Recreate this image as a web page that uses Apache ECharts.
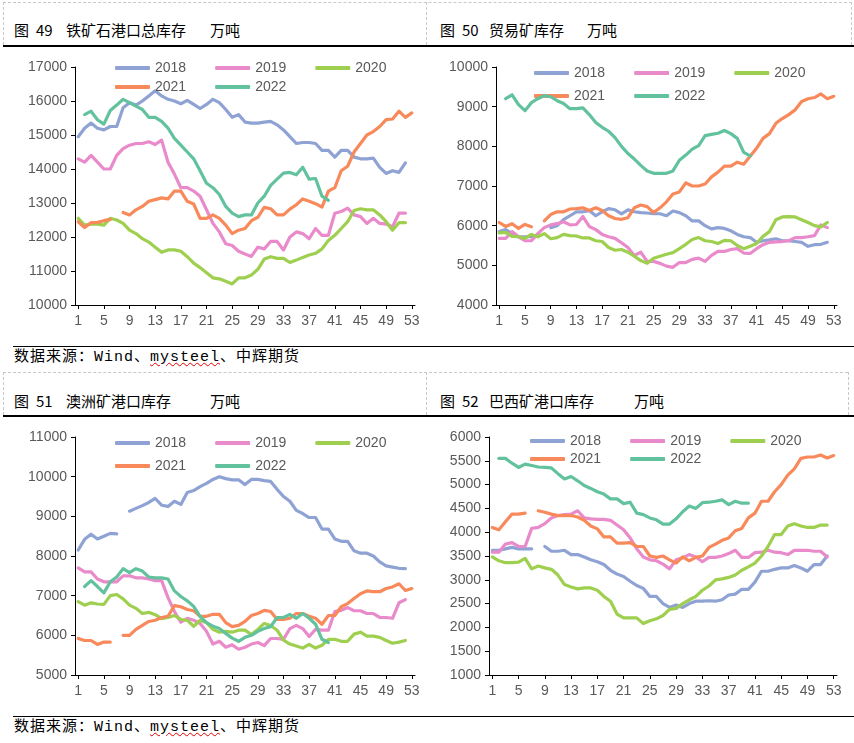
<!DOCTYPE html>
<html><head><meta charset="utf-8">
<script src="https://cdn.jsdelivr.net/npm/echarts@6/dist/echarts.min.js"></script>
<style>
html,body{margin:0;padding:0;background:#fff;width:854px;height:743px;overflow:hidden;position:relative;font-family:"Noto Sans CJK SC",sans-serif;}
.hl{position:absolute;height:0;}
.vl{position:absolute;width:0;}
.t{position:absolute;font-size:15px;line-height:20px;color:#000;white-space:pre;}
.src{position:absolute;left:14px;font-size:15px;line-height:20px;color:#000;white-space:pre;letter-spacing:1px;font-family:"Liberation Mono","Noto Sans CJK SC",monospace;}
.wavy{text-decoration:underline wavy #e00000;text-decoration-thickness:1px;}
#chart{position:absolute;left:0;top:0;width:854px;height:743px;}
</style></head>
<body>
<!-- row 1 frame -->
<div class="hl" style="left:3px;top:2px;width:849px;border-top:1px dashed #c8c8c8"></div>
<div class="vl" style="left:3px;top:2px;height:43px;border-left:1px dashed #c8c8c8"></div>
<div class="vl" style="left:426px;top:2px;height:43px;border-left:1px dashed #c8c8c8"></div>
<div class="vl" style="left:851px;top:2px;height:43px;border-left:1px dashed #c8c8c8"></div>
<div class="hl" style="left:3px;top:45px;width:851px;border-top:2px solid #000"></div>
<div class="t" style="left:14px;top:20px">图</div><div class="t" style="left:36px;top:20px">49</div><div class="t" style="left:66px;top:20px">铁矿石港口总库存</div><div class="t" style="left:210px;top:20px">万吨</div>
<div class="t" style="left:440px;top:20px">图</div><div class="t" style="left:462px;top:20px">50</div><div class="t" style="left:489px;top:20px">贸易矿库存</div><div class="t" style="left:587px;top:20px">万吨</div>
<div class="hl" style="left:13px;top:346px;width:841px;border-top:1.5px solid #000"></div>
<div class="src" style="top:348px">数据来源：Wind、<span class="wavy">mysteel</span>、中辉期货</div>
<!-- row 2 frame -->
<div class="hl" style="left:3px;top:372px;width:845px;border-top:1px dashed #c8c8c8"></div>
<div class="vl" style="left:3px;top:372px;height:43px;border-left:1px dashed #c8c8c8"></div>
<div class="vl" style="left:426px;top:372px;height:43px;border-left:1px dashed #c8c8c8"></div>
<div class="vl" style="left:848px;top:372px;height:43px;border-left:1px dashed #c8c8c8"></div>
<div class="hl" style="left:3px;top:415px;width:851px;border-top:2px solid #000"></div>
<div class="t" style="left:14px;top:391px">图</div><div class="t" style="left:36px;top:391px">51</div><div class="t" style="left:66px;top:391px">澳洲矿港口库存</div><div class="t" style="left:210px;top:391px">万吨</div>
<div class="t" style="left:440px;top:391px">图</div><div class="t" style="left:462px;top:391px">52</div><div class="t" style="left:489px;top:391px">巴西矿港口库存</div><div class="t" style="left:634px;top:391px">万吨</div>
<div class="hl" style="left:13px;top:716px;width:841px;border-top:1.5px solid #000"></div>
<div class="src" style="top:718px">数据来源：Wind、<span class="wavy">mysteel</span>、中辉期货</div>

<div id="chart"></div>
<script>
const weeks = ['1','2','3','4','5','6','7','8','9','10','11','12','13','14','15','16','17','18','19','20','21','22','23','24','25','26','27','28','29','30','31','32','33','34','35','36','37','38','39','40','41','42','43','44','45','46','47','48','49','50','51','52','53'];
const years = ['2018','2019','2020','2021','2022'];
const yearColors = ['#8FA2D4','#E98BCB','#9FCF4E','#F8895A','#62C29E'];

// 图49 铁矿石港口总库存 (万吨)
const total2018 = [14950,15200,15350,15200,15150,15250,15250,15800,15950,15880,16000,16150,16300,16150,16050,16000,15920,16020,15900,15780,15900,16050,15950,15750,15520,15600,15380,15350,15350,15380,15400,15300,15150,14950,14750,14780,14780,14750,14550,14550,14350,14550,14550,14350,14300,14300,14320,14050,13870,13950,13900,14180,null];
const total2019 = [14300,14200,14400,14200,14000,14000,14400,14600,14700,14750,14750,14800,14720,14850,14200,13850,13450,13450,13350,13200,12800,12400,12150,11800,11750,11580,11500,11430,11700,11650,11870,11870,11620,12000,12150,12100,11950,12250,12050,12050,12700,12750,12850,12650,12600,12400,12550,12400,12380,12300,12700,12700,null];
const total2020 = [12550,12350,12380,12380,12350,12550,12500,12400,12200,12100,11950,11850,11700,11550,11620,11620,11580,11420,11230,11100,10950,10800,10770,10700,10620,10800,10800,10880,11050,11350,11420,11370,11370,11250,11320,11400,11470,11520,11650,11900,12050,12250,12450,12780,12830,12800,12800,12650,12450,12200,12420,12420,null];
const total2021 = [12450,12280,12420,12430,12480,12520,null,12720,12650,12800,12900,13050,13100,13150,13120,13350,13350,13050,12970,12550,12550,12650,12550,12350,12100,12200,12250,12480,12580,12870,12830,12650,12650,12820,12950,13120,13050,12980,12880,13350,13450,13950,14080,14500,14750,15000,15100,15250,15450,15470,15700,15520,15650];
const total2022 = [null,15600,15700,15450,15320,15720,15880,16050,15950,15850,15750,15520,15520,15400,15200,14900,14700,14500,14300,13950,13580,13450,13250,12900,12700,12600,12650,12650,13000,13200,13520,13700,13880,13900,13830,14050,13700,13720,13200,13080,null,null,null,null,null,null,null,null,null,null,null,null,null];

// 图50 贸易矿库存 (万吨)
const trade2018 = [5850,5900,5800,5720,5720,5720,5750,null,5950,6000,6150,6250,6350,6350,6380,6250,6350,6430,6400,6300,6400,6350,6330,6320,6300,6300,6250,6370,6330,6250,6120,6120,6000,5920,5950,5930,5870,5780,5720,5700,5580,5620,5640,5670,5620,5620,5600,5580,5480,5520,5530,5580,null];
const trade2019 = [5680,5680,5850,5720,5620,5620,5800,5950,6020,6050,6100,6020,6030,6230,5980,5900,5780,5720,5680,5570,5450,5250,5330,5100,5100,5050,4980,4950,5070,5070,5150,5180,5100,5250,5350,5350,5400,5420,5310,5300,5420,5520,5580,5590,5600,5620,5700,5700,5720,5750,6020,5950,null];
const trade2020 = [5820,5830,5730,5720,5680,5780,5720,5800,5670,5700,5780,5750,5740,5690,5690,5620,5600,5450,5380,5400,5330,5230,5120,5050,5180,5230,5280,5320,5420,5530,5650,5700,5620,5600,5550,5630,5620,5500,5420,5480,5550,5730,5850,6150,6220,6230,6220,6150,6080,6000,5970,6080,null];
const trade2021 = [6080,5980,6050,5930,6030,5970,null,6120,6280,6350,6350,6420,6430,6450,6380,6450,6380,6250,6180,6160,6200,6450,6520,6480,6330,6450,6600,6800,6850,7080,7000,7000,7050,7230,7350,7500,7500,7600,7550,7750,7950,8200,8320,8580,8700,8800,8920,9130,9200,9230,9320,9200,9260];
const trade2022 = [null,9200,9300,9050,8900,9100,9200,9280,9250,9150,9080,8950,8950,8970,8800,8600,8480,8380,8220,8000,7820,7680,7520,7380,7320,7320,7320,7380,7650,7780,7930,8020,8270,8300,8330,8400,8320,8200,7850,7760,null,null,null,null,null,null,null,null,null,null,null,null,null];

// 图51 澳洲矿港口库存 (万吨)
const aus2018 = [8150,8420,8550,8430,8500,8570,8560,null,9130,9200,9270,9350,9450,9280,9250,9380,9300,9600,9650,9750,9830,9930,10000,9950,9920,9920,9800,9930,9930,9900,9880,9680,9500,9380,9150,9070,8970,8970,8680,8680,8430,8370,8370,8130,8070,8070,8000,7850,7750,7720,7690,7680,null];
const aus2019 = [7700,7600,7600,7420,7350,7350,7350,7500,7500,7450,7450,7420,7380,7380,6950,6600,6330,6430,6380,6300,6100,5780,5850,5700,5760,5650,5700,5780,5820,5740,5920,5920,5900,6170,6250,6170,5970,6150,6130,6130,6600,6630,6700,6620,6620,6550,6550,6450,6450,6430,6820,6900,null];
const aus2020 = [6850,6760,6820,6790,6780,7000,7030,6920,6760,6680,6550,6580,6520,6420,6450,6500,6400,6380,6230,6380,6320,6150,6080,6100,6080,6130,6130,6020,6150,6300,6250,6130,5880,5780,5730,5680,5770,5680,5750,5900,5900,5850,5850,6030,6080,5980,5980,5950,5870,5800,5830,5870,null];
const aus2021 = [5920,5870,5870,5770,5830,5830,null,6000,6000,6150,6250,6350,6380,6450,6480,6750,6720,6650,6620,6480,6480,6530,6530,6320,6220,6250,6350,6500,6550,6630,6600,6400,6400,6430,6550,6550,6480,6430,6280,6500,6500,6720,6800,6930,7050,7120,7100,7100,7180,7220,7300,7130,7180];
const aus2022 = [null,7230,7380,7230,7070,7350,7470,7680,7580,7680,7620,7470,7450,7450,7420,7120,6980,6870,6730,6480,6320,6230,6170,6050,5930,5850,5950,6000,6100,6170,6220,6450,6450,6530,6430,6550,6430,6280,5900,5820,null,null,null,null,null,null,null,null,null,null,null,null,null];

// 图52 巴西矿港口库存 (万吨)
const bra2018 = [3620,3620,3650,3680,3650,3650,3650,null,3700,3600,3600,3620,3530,3530,3480,3420,3380,3320,3200,3120,3070,2970,2880,2820,2650,2650,2500,2420,2470,2420,2500,2550,2550,2560,2550,2580,2680,2700,2800,2800,2950,3180,3180,3220,3250,3250,3300,3250,3180,3320,3320,3500,null];
const bra2019 = [3580,3580,3750,3780,3700,3700,4080,4100,4180,4300,4350,4370,4380,4450,4300,4280,4270,4270,4250,4150,4050,3880,3650,3480,3420,3400,3330,3230,3420,3460,3530,3480,3380,3470,3470,3500,3550,3620,3470,3470,3570,3580,3620,3580,3570,3530,3620,3620,3620,3600,3600,3480,null];
const bra2020 = [3480,3400,3360,3360,3370,3450,3230,3290,3250,3220,3100,2900,2850,2810,2830,2830,2780,2650,2550,2280,2200,2200,2200,2080,2140,2180,2250,2380,2400,2500,2580,2650,2780,2870,3000,3020,3050,3100,3200,3270,3350,3500,3700,3950,3950,4130,4180,4130,4100,4100,4150,4150,null];
const bra2021 = [4100,4050,4220,4380,4380,4400,null,4450,4420,4380,4350,4350,4350,4320,4250,4130,4070,3900,3900,3770,3770,3780,3700,3700,3500,3470,3500,3420,3350,3480,3400,3470,3500,3680,3750,3830,3880,4030,4080,4300,4400,4650,4650,4850,5000,5200,5330,5550,5580,5580,5620,5560,5610];
const bra2022 = [null,5550,5550,5450,5360,5430,5400,5370,5360,5350,5230,5120,5170,5080,4980,4920,4850,4800,4700,4700,4600,4630,4400,4370,4300,4260,4170,4170,4280,4430,4550,4500,4620,4630,4650,4680,4580,4650,4610,4610,null,null,null,null,null,null,null,null,null,null,null,null,null];

const panels = [
  {grid:{left:75, top:67, width:340, height:238}, y:[10000,17000,1000], data:[total2018,total2019,total2020,total2021,total2022], leg:[115,61,80]},
  {grid:{left:496,top:67, width:341, height:238}, y:[4000,10000,1000],  data:[trade2018,trade2019,trade2020,trade2021,trade2022], leg:[534,66,89]},
  {grid:{left:75, top:437,width:340, height:238}, y:[5000,11000,1000],  data:[aus2018,aus2019,aus2020,aus2021,aus2022], leg:[115,436,459]},
  {grid:{left:489,top:437,width:348, height:238}, y:[1000,6000,500],    data:[bra2018,bra2019,bra2020,bra2021,bra2022], leg:[530,434,452]}
];

const txt = {color:'#595959', fontSize:14, fontFamily:'"Liberation Sans", Arial, sans-serif'};
const option = {animation:false, backgroundColor:'transparent', grid:[], xAxis:[], yAxis:[], series:[], legend:[]};
panels.forEach((p,i)=>{
  option.grid.push(Object.assign({containLabel:false}, p.grid));
  option.xAxis.push({type:'category', gridIndex:i, data:weeks, boundaryGap:true,
    axisLine:{lineStyle:{color:'#000', width:1}},
    axisTick:{show:true, alignWithLabel:true, interval:3, length:4, lineStyle:{color:'#000'}},
    axisLabel:Object.assign({interval:3, margin:9}, txt), splitLine:{show:false}});
  option.yAxis.push({type:'value', gridIndex:i, min:p.y[0], max:p.y[1], interval:p.y[2],
    axisLine:{show:true, lineStyle:{color:'#000', width:1}},
    axisTick:{show:true, length:4, lineStyle:{color:'#000'}},
    axisLabel:Object.assign({margin:8, formatter:v=>String(v)}, txt), splitLine:{show:false}});
  years.forEach((yr,k)=>{
    option.series.push({name:yr, type:'line', xAxisIndex:i, yAxisIndex:i, data:p.data[k],
      symbol:'none', connectNulls:false, color:yearColors[k],
      lineStyle:{width:3.2, color:yearColors[k], cap:'round', join:'round'},
      emphasis:{disabled:true}, z:2+k});
  });
  const lg = {icon:'roundRect', itemWidth:35, itemHeight:4, itemGap:29, selectedMode:false,
    textStyle:Object.assign({lineHeight:14, padding:[0,0,0,0]}, txt), padding:0};
  option.legend.push(Object.assign({left:p.leg[0], top:p.leg[1], data:['2018','2019','2020']}, lg));
  option.legend.push(Object.assign({left:p.leg[0], top:p.leg[2], data:['2021','2022']}, lg));
});
const chart = echarts.init(document.getElementById('chart'), null, {renderer:'canvas'});
chart.setOption(option);
</script>
</body></html>
